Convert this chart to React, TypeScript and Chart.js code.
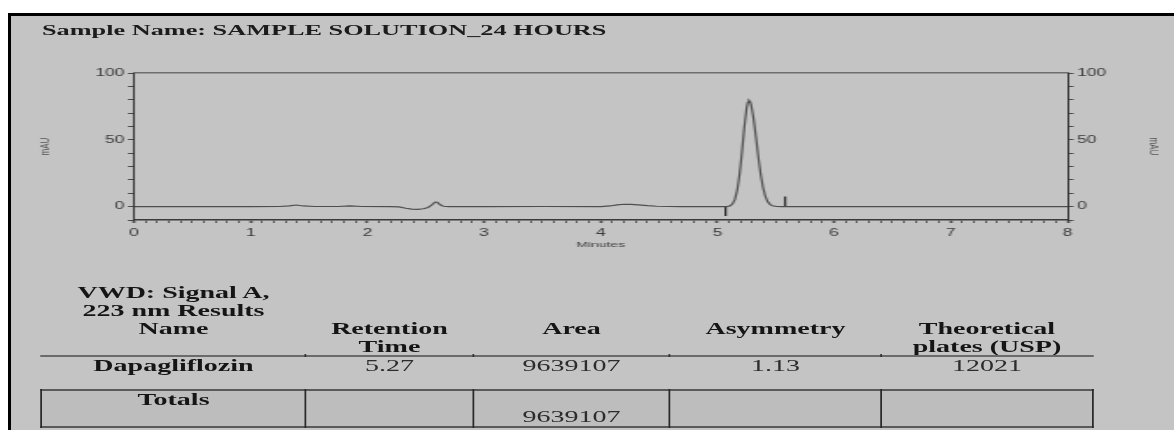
import React, { useEffect, useRef } from 'react';
import { Chart, registerables } from 'chart.js';

Chart.register(...registerables);

// ---------- data ----------
const sampleTitle = 'Sample Name: SAMPLE SOLUTION_24 HOURS';

// chromatogram trace (minutes, mAU)
const timeMinutes = [
  0, 0.5, 1.0, 1.25, 1.33, 1.39, 1.45, 1.55, 1.75, 1.85, 1.95,
  2.2, 2.27, 2.33, 2.38, 2.43, 2.48, 2.52, 2.55, 2.58, 2.6, 2.62, 2.65, 2.7,
  3.0, 3.5, 4.0, 4.08, 4.14, 4.2, 4.26, 4.32, 4.4, 4.48, 4.58, 4.7, 5.0,
  5.07, 5.09, 5.11, 5.13, 5.15, 5.17, 5.19, 5.21, 5.23, 5.25, 5.26, 5.27,
  5.28, 5.29, 5.31, 5.33, 5.35, 5.37, 5.39, 5.41, 5.43, 5.45, 5.47, 5.51, 5.55,
  6.0, 7.0, 8.0,
];
const signalMAU = [
  0, 0, 0, 0.1, 0.6, 1.2, 0.5, 0.1, 0.1, 0.5, 0.1,
  0, -0.2, -1.2, -1.8, -2.0, -1.6, -0.6, 1.2, 3.4, 3.3, 1.6, 0.3, 0,
  0, 0.1, 0, 0.5, 1.3, 1.8, 1.7, 1.3, 0.7, 0.3, 0.1, 0, 0,
  0, 0.2, 0.7, 2.1, 5.6, 12.5, 24.3, 40.9, 59.1, 73.8, 78.0, 79.5,
  78.6, 75.8, 65.8, 51.9, 37.3, 24.4, 14.5, 7.8, 3.8, 1.7, 0.7, 0.1, 0,
  0, 0, 0,
];

// integration start / end markers
const markerTimes = [5.07, 5.58];
const markerFrom = [0, 0];
const markerTo = [-7, 7.5];

// axes
const xMin = 0;
const xMax = 8;
const yMin = -10;
const yMax = 100;
const yLabelledTicks = [0, 50, 100];
const xAxisTitle = 'Minutes';
const yAxisTitle = 'mAU';

// results table
const captionLines = ['VWD: Signal A,', '223 nm Results'];
const headerCells = [['Name'], ['Retention', 'Time'], ['Area'], ['Asymmetry'], ['Theoretical', 'plates (USP)']];
const peakName = 'Dapagliflozin';
const rowValues = ['5.27', '9639107', '1.13', '12021'];
const totalsLabel = 'Totals';
const totalsArea = '9639107';

// ---------- layout ----------
const S = 1.75; // horizontal stretch of the printout
const PAGE_W = 1174;
const PAGE_H = 430;
const INNER_W = PAGE_W / S;
const CANVAS_H = 262;
const u = (x: number) => x / S;
const colEdges = [41, 306, 473, 670, 881, 1093];

const SANS = '"Liberation Sans", Arial, Helvetica, sans-serif';
const SERIF = '"Liberation Serif", "Times New Roman", Times, serif';

const isInt = (v: number) => Math.abs(v - Math.round(v)) < 1e-6;

function ChromChart() {
  const ref = useRef<HTMLCanvasElement | null>(null);
  useEffect(() => {
    if (!ref.current) return;
    const tickFont = { family: SANS, size: 10 };
    const yTicks = {
      stepSize: 10,
      autoSkip: false,
      color: '#3a3a3a',
      padding: 2,
      font: tickFont,
      callback: (v: any) => (yLabelledTicks.some((t) => Math.abs(t - v) < 1e-6) ? String(Math.round(v)) : ''),
    };
    const chart = new Chart(ref.current, {
      type: 'line',
      data: {
        datasets: [
          {
            data: timeMinutes.map((t, i) => ({ x: t, y: signalMAU[i] })),
            borderColor: '#4e4e4e',
            borderWidth: 1.2,
            pointRadius: 0,
            tension: 0,
            xAxisID: 'x',
            yAxisID: 'y',
          },
          ...markerTimes.map((t, i) => ({
            data: [
              { x: t, y: markerFrom[i] },
              { x: t, y: markerTo[i] },
            ],
            borderColor: '#262626',
            borderWidth: 1.2,
            pointRadius: 0,
            xAxisID: 'x',
            yAxisID: 'y',
          })),
        ],
      },
      options: {
        animation: false,
        responsive: false,
        devicePixelRatio: 1,
        events: [],
        layout: { padding: { top: 73, left: 0, right: 0, bottom: 0 } },
        plugins: { legend: { display: false }, tooltip: { enabled: false } },
        scales: {
          x: {
            type: 'linear',
            position: 'bottom',
            min: xMin,
            max: xMax,
            ticks: {
              stepSize: 0.1,
              autoSkip: false,
              maxRotation: 0,
              padding: 4,
              color: '#3a3a3a',
              font: tickFont,
              callback: (v: any) => (isInt(v) ? String(Math.round(v)) : ''),
            },
            grid: {
              display: true,
              drawOnChartArea: false,
              drawTicks: true,
              tickLength: 3,
              tickColor: '#4a4a4a',
              tickWidth: (c: any) => (c.tick && isInt(c.tick.value) ? 1.6 : 0.9),
            },
            border: { display: true, color: '#3a3a3a', width: 1.6 },
            title: {
              display: true,
              text: xAxisTitle,
              color: '#444',
              font: { family: SANS, size: 8 },
              padding: { top: 0, bottom: 12 },
            },
            afterFit: (s: any) => {
              s.height = CANVAS_H - 220;
            },
          },
          xTop: {
            type: 'linear',
            position: 'top',
            min: xMin,
            max: xMax,
            ticks: { display: false },
            grid: { display: true, drawOnChartArea: false, drawTicks: false },
            border: { display: true, color: '#6e6e6e', width: 1.5 },
            afterFit: (s: any) => {
              s.height = 0;
            },
          },
          y: {
            type: 'linear',
            position: 'left',
            min: yMin,
            max: yMax,
            ticks: yTicks,
            grid: { display: true, drawOnChartArea: false, drawTicks: true, tickLength: 3.5, tickColor: '#4a4a4a' },
            border: { display: true, color: '#333', width: 1 },
            title: {
              display: true,
              text: yAxisTitle,
              color: '#555',
              font: { family: SANS, size: 8 },
              padding: { top: 21, bottom: 0 },
            },
            afterFit: (s: any) => {
              s.width = u(134);
            },
          },
          yRight: {
            type: 'linear',
            position: 'right',
            min: yMin,
            max: yMax,
            ticks: yTicks,
            grid: { display: true, drawOnChartArea: false, drawTicks: true, tickLength: 3.5, tickColor: '#4a4a4a' },
            border: { display: true, color: '#333', width: 1 },
            title: {
              display: true,
              text: yAxisTitle,
              color: '#555',
              font: { family: SANS, size: 8 },
              padding: { top: 6.1, bottom: 0 },
            },
            afterFit: (s: any) => {
              s.width = INNER_W - u(1069);
            },
          },
        },
      },
    } as any);
    return () => chart.destroy();
  }, []);
  return (
    <canvas
      ref={ref}
      width={INNER_W}
      height={CANVAS_H}
      style={{ position: 'absolute', left: 0, top: 0 }}
    />
  );
}

function Cell(props: { col: number; top: number; lines: string[]; bold?: boolean }) {
  const { col, top, lines, bold } = props;
  return (
    <div
      style={{
        position: 'absolute',
        left: u(colEdges[col]),
        width: u(colEdges[col + 1] - colEdges[col]),
        top,
        textAlign: 'center',
        fontFamily: SERIF,
        fontSize: 16,
        lineHeight: '18px',
        fontWeight: bold ? 'bold' : 'normal',
        color: bold ? '#151515' : '#2c2c2c',
        whiteSpace: 'nowrap',
      }}
    >
      {lines.map((l, i) => (
        <div key={i}>{l}</div>
      ))}
    </div>
  );
}

export default function App() {
  return (
    <div
      style={{
        position: 'absolute',
        left: 0,
        top: 0,
        width: PAGE_W,
        height: PAGE_H,
        background: '#ffffff',
        overflow: 'hidden',
      }}
    >
      <div
        style={{
          position: 'absolute',
          left: 8,
          top: 13,
          width: PAGE_W - 8,
          height: PAGE_H - 13,
          boxSizing: 'border-box',
          background: '#c4c4c4',
          borderTop: '3px solid #000',
          borderLeft: '3px solid #000',
        }}
      />
      <div
        style={{
          position: 'absolute',
          left: 0,
          top: 0,
          width: INNER_W,
          height: PAGE_H,
          transform: `scaleX(${S})`,
          transformOrigin: '0 0',
        }}
      >
        <ChromChart />
        <div
          style={{
            position: 'absolute',
            left: u(42),
            top: 21,
            fontFamily: SERIF,
            fontWeight: 'bold',
            fontSize: 15,
            lineHeight: '18px',
            color: '#1c1c1c',
            whiteSpace: 'nowrap',
          }}
        >
          {sampleTitle}
        </div>

        <Cell col={0} top={284} lines={captionLines} bold />
        {headerCells.map((lines, i) => (
          <Cell key={'h' + i} col={i} top={320} lines={lines} bold />
        ))}
        <div
          style={{
            position: 'absolute',
            left: u(41),
            width: u(1094 - 41),
            top: 355,
            height: 2,
            background: '#6a6a6a',
          }}
        />
        {colEdges.slice(1, 5).map((e, i) => (
          <div
            key={'d' + i}
            style={{ position: 'absolute', left: u(e - 1), width: 1.2, top: 354, height: 3, background: '#333' }}
          />
        ))}
        <Cell col={0} top={357} lines={[peakName]} bold />
        {rowValues.map((v, i) => (
          <Cell key={'r' + i} col={i + 1} top={357} lines={[v]} />
        ))}

        <div
          style={{
            position: 'absolute',
            left: u(41),
            width: u(1093 - 41),
            top: 389,
            height: 39,
            boxSizing: 'border-box',
            background: '#bdbdbd',
            borderTop: '2px solid #5a5a5a',
            borderBottom: '2px solid #5a5a5a',
          }}
        />
        {colEdges.map((e, i) => (
          <div
            key={'v' + i}
            style={{ position: 'absolute', left: u(e) - 0.5, width: 1, top: 389, height: 39, background: '#2a2a2a' }}
          />
        ))}
        <Cell col={0} top={391} lines={[totalsLabel]} bold />
        <Cell col={2} top={408} lines={[totalsArea]} />
      </div>
    </div>
  );
}
